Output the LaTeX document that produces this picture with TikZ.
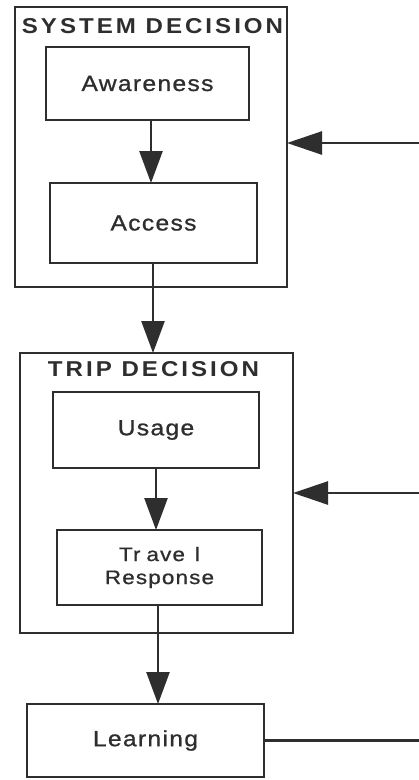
\documentclass[tikz,border=0pt]{standalone}
\usepackage{fontspec}
\setmainfont{Liberation Sans}
\newfontfamily\lblfont[LetterSpace=6,FakeStretch=1.12,FakeBold=0.9]{Liberation Sans}
\newfontfamily\ttlfont[LetterSpace=14,FakeStretch=1.12]{Liberation Sans}
\newfontfamily\smlfont[LetterSpace=6,FakeStretch=1.15,FakeBold=0.9]{Liberation Sans}
\usetikzlibrary{arrows.meta}
\definecolor{ink}{HTML}{2E2E2E}
\begin{document}
\begin{tikzpicture}[x=1pt,y=-1pt,
  every node/.style={inner sep=0pt, outer sep=0pt},
  frame/.style={draw=ink, line width=2.6pt},
  inbox/.style={draw=ink, line width=2.6pt, text=ink, align=center,
    font=\lblfont\fontsize{22}{24}\selectfont},
  title/.style={text=ink, font=\ttlfont\bfseries\fontsize{21.5}{24}\selectfont},
  link/.style={draw=ink, line width=2.6pt},
  arr/.style={link, -{Triangle[length=32pt,width=23pt]}},
  sidearr/.style={link, -{Triangle[length=35pt,width=23pt]}}]
\useasboundingbox[fill=white] (0,0) rectangle (419,780);

% system decision group
\node[frame, minimum width=272pt, minimum height=280pt] (sys) at (151,147) {};
\node[title] (systitle) at (152.5,26.5) {SYSTEM DECISION};
\node[inbox, minimum width=203pt, minimum height=73pt] (aw) at (147.5,83.5) {Awareness};
\node[inbox, minimum width=207pt, minimum height=80pt] (ac) at (153.5,223) {Access};

% trip decision group
\node[frame, minimum width=273pt, minimum height=280pt] (trip) at (156.5,493) {};
\node[title] (triptitle) at (153.5,369.5) {TRIP DECISION};
\node[inbox, minimum width=206pt, minimum height=76pt] (us) at (156,430) {Usage};
\node[inbox, minimum width=205pt, minimum height=75pt,
      font=\smlfont\fontsize{19.5}{23}\selectfont] (tr) at (159.5,567.5)
      {Tr\kern6pt ave\kern10pt l\\Response};

% learning
\node[inbox, minimum width=237pt, minimum height=73pt] (ln) at (145.5,740.5) {Learning};

% feedback ends at the right margin
\coordinate (fb1) at (419,143);
\coordinate (fb2) at (419,493);
\coordinate (fb3) at (419,741);

% flow arrows
\draw[arr] ([xshift=3.5pt]aw.south) -- ([xshift=-2.5pt]ac.north);
\draw[arr] ([xshift=-0.5pt]ac.south) -- ([xshift=-0.5pt]ac.south |- trip.north);
\draw[arr] (us.south) -- (us.south |- tr.north);
\draw[arr] ([xshift=-1.5pt]tr.south) -- ([xshift=-1.5pt]tr.south |- ln.north);

% feedback arrows
\draw[sidearr] (fb1) -- (fb1 -| sys.east);
\draw[sidearr] (fb2) -- (fb2 -| trip.east);
\draw[link] (ln.east) -- (ln.east -| fb3);
\end{tikzpicture}
\end{document}
